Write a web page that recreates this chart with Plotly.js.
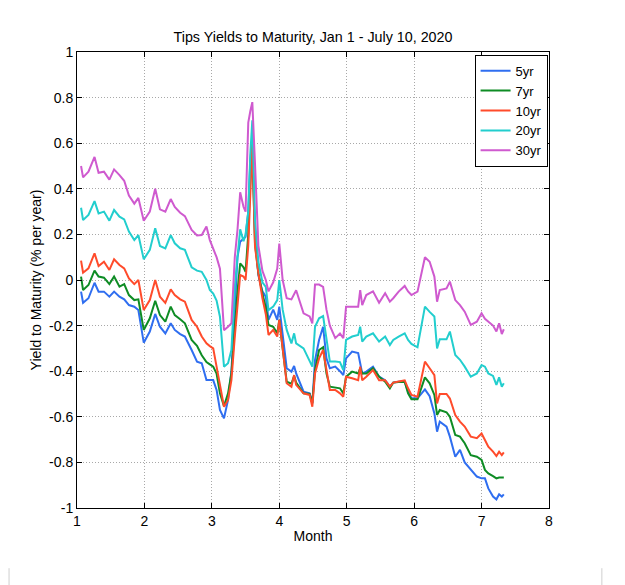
<!DOCTYPE html>
<html>
<head>
<meta charset="utf-8">
<script src="https://cdn.plot.ly/plotly-3.0.1.min.js"></script>
<style>html,body{margin:0;padding:0;background:#fff}#chart{width:625px;height:585px}</style>
</head>
<body>
<div id="chart"></div>
<script>
const months = [1.06,1.09,1.17,1.26,1.32,1.40,1.48,1.55,1.63,1.70,1.77,1.85,1.91,1.99,2.08,2.16,2.23,2.31,2.39,2.45,
2.53,2.60,2.70,2.78,2.85,2.92,2.97,3.02,3.07,3.12,3.18,3.24,3.29,3.34,3.38,3.42,3.47,3.50,3.54,3.57,
3.60,3.64,3.69,3.75,3.80,3.84,3.91,3.97,4.00,4.05,4.11,4.18,4.22,4.25,4.36,4.45,4.49,4.53,4.59,4.65,
4.70,4.75,4.83,4.90,4.95,4.99,5.08,5.17,5.20,5.23,5.29,5.39,5.48,5.57,5.64,5.69,5.77,5.86,5.91,5.96,
6.05,6.16,6.23,6.30,6.34,6.38,6.48,6.53,6.61,6.68,6.75,6.84,6.93,7.00,7.05,7.10,7.17,7.22,7.26,7.30,7.33];

const yr30 = [0.50,0.45,0.475,0.54,0.47,0.475,0.44,0.485,0.46,0.435,0.37,0.335,0.36,0.26,0.30,0.40,0.31,0.30,0.355,0.32,
0.295,0.28,0.22,0.195,0.197,0.235,0.175,0.14,0.10,0.05,-0.22,-0.205,-0.19,0.10,0.22,0.385,0.32,0.30,0.69,0.74,
0.78,0.51,0.15,0.04,0.0,-0.05,-0.01,0.05,0.16,0.0,-0.08,-0.085,-0.06,-0.045,-0.146,-0.16,-0.19,-0.02,-0.02,-0.03,
-0.13,-0.20,-0.255,-0.235,-0.255,-0.117,-0.117,-0.117,-0.044,-0.11,-0.066,-0.05,-0.10,-0.058,-0.095,-0.08,-0.051,-0.026,-0.05,-0.066,
-0.051,0.10,0.08,0.015,-0.095,-0.044,-0.037,-0.007,-0.088,-0.11,-0.139,-0.197,-0.183,-0.146,-0.17,-0.183,-0.20,-0.226,-0.19,-0.237,-0.216];

const yr20 = [0.317,0.263,0.285,0.346,0.292,0.30,0.26,0.307,0.278,0.266,0.212,0.175,0.197,0.091,0.132,0.227,0.149,0.139,0.197,0.161,
0.139,0.132,0.056,0.041,0.036,0.0,-0.044,-0.06,-0.09,-0.161,-0.38,-0.365,-0.307,-0.03,0.10,0.222,0.17,0.20,0.30,0.55,
0.70,0.263,0.08,-0.01,-0.03,-0.132,-0.117,-0.088,0.0,-0.13,-0.219,-0.278,-0.234,-0.278,-0.30,-0.351,-0.38,-0.205,-0.168,-0.158,
-0.27,-0.358,-0.358,-0.36,-0.395,-0.263,-0.248,-0.241,-0.205,-0.27,-0.248,-0.234,-0.27,-0.248,-0.285,-0.263,-0.248,-0.234,-0.263,-0.28,
-0.295,-0.117,-0.14,-0.16,-0.30,-0.26,-0.26,-0.226,-0.329,-0.35,-0.38,-0.424,-0.41,-0.373,-0.38,-0.41,-0.421,-0.46,-0.427,-0.468,-0.453];

const yr10 = [0.085,0.032,0.051,0.117,0.061,0.08,0.044,0.091,0.066,0.051,0.007,-0.018,0.0,-0.132,-0.088,0.0,-0.073,-0.10,-0.041,-0.066,
-0.085,-0.095,-0.175,-0.205,-0.248,-0.278,-0.29,-0.30,-0.38,-0.468,-0.556,-0.526,-0.439,-0.25,-0.10,0.022,0.015,0.0,0.15,0.40,
0.60,0.146,0.03,-0.08,-0.15,-0.241,-0.219,-0.248,-0.175,-0.30,-0.453,-0.468,-0.417,-0.46,-0.497,-0.504,-0.556,-0.41,-0.344,-0.307,
-0.402,-0.482,-0.482,-0.497,-0.512,-0.424,-0.431,-0.439,-0.38,-0.44,-0.424,-0.395,-0.44,-0.44,-0.468,-0.45,-0.445,-0.44,-0.475,-0.504,
-0.512,-0.358,-0.387,-0.417,-0.541,-0.50,-0.50,-0.52,-0.592,-0.621,-0.643,-0.687,-0.694,-0.673,-0.702,-0.731,-0.753,-0.772,-0.753,-0.768,-0.756];

const yr7 = [0.015,-0.044,-0.022,0.041,0.015,0.01,-0.018,0.015,-0.029,-0.018,-0.066,-0.088,-0.085,-0.219,-0.168,-0.091,-0.154,-0.183,-0.117,-0.154,
-0.172,-0.19,-0.263,-0.289,-0.33,-0.36,-0.37,-0.38,-0.41,-0.497,-0.553,-0.497,-0.41,-0.20,-0.05,0.073,0.056,0.036,0.20,0.45,
0.58,0.16,0.03,-0.06,-0.12,-0.197,-0.205,-0.234,-0.175,-0.30,-0.446,-0.455,-0.42,-0.45,-0.497,-0.50,-0.54,-0.395,-0.307,-0.295,
-0.41,-0.468,-0.47,-0.475,-0.497,-0.424,-0.402,-0.41,-0.387,-0.41,-0.41,-0.387,-0.424,-0.446,-0.475,-0.45,-0.447,-0.446,-0.497,-0.523,
-0.523,-0.427,-0.453,-0.504,-0.592,-0.57,-0.58,-0.60,-0.68,-0.687,-0.716,-0.768,-0.775,-0.789,-0.833,-0.848,-0.86,-0.87,-0.866,-0.866,-0.866];

const yr5 = [-0.051,-0.10,-0.08,-0.012,-0.051,-0.051,-0.073,-0.051,-0.073,-0.085,-0.11,-0.117,-0.132,-0.275,-0.226,-0.149,-0.205,-0.234,-0.19,-0.219,
-0.237,-0.248,-0.307,-0.358,-0.365,-0.439,-0.439,-0.439,-0.482,-0.57,-0.607,-0.526,-0.40,-0.10,0.10,0.168,0.183,0.19,0.30,0.52,
0.62,0.20,0.02,-0.05,-0.073,-0.175,-0.13,-0.175,-0.117,-0.25,-0.387,-0.402,-0.377,-0.41,-0.49,-0.497,-0.541,-0.351,-0.263,-0.205,
-0.344,-0.387,-0.38,-0.40,-0.417,-0.344,-0.314,-0.32,-0.358,-0.41,-0.402,-0.38,-0.424,-0.44,-0.468,-0.45,-0.446,-0.446,-0.49,-0.519,
-0.519,-0.48,-0.51,-0.585,-0.665,-0.621,-0.643,-0.687,-0.775,-0.745,-0.80,-0.833,-0.862,-0.87,-0.87,-0.914,-0.95,-0.962,-0.94,-0.95,-0.94];

const seriesNames = ['5yr','7yr','10yr','20yr','30yr'];
const seriesValues = [yr5, yr7, yr10, yr20, yr30];
const seriesColors = ['#2f6ef0','#0e8c24','#ff4b2b','#22cece','#cf5acf'];

const xTickVals = [1,2,3,4,5,6,7,8];
const xTickText = ['1','2','3','4','5','6','7','8'];
const yTickVals = [1,0.8,0.6,0.4,0.2,0,-0.2,-0.4,-0.6,-0.8,-1];
const yTickText = ['1','0.8','0.6','0.4','0.2','0','-0.2','-0.4','-0.6','-0.8','-1'];

const traces = seriesNames.map((n,i)=>({
  x: months, y: seriesValues[i], name: n, type: 'scatter', mode: 'lines',
  line: {color: seriesColors[i], width: 2}
}));

const axisCommon = {
  showline: true, linecolor: '#000', linewidth: 1, mirror: 'ticks',
  ticks: 'inside', ticklen: 5, tickcolor: '#000',
  showgrid: true, gridcolor: '#a8a8a8', griddash: '1px,2px', gridwidth: 1,
  zeroline: false, tickfont: {size: 14, color: '#000'}
};

const layout = {
  width: 625, height: 585,
  margin: {l: 77, r: 76, t: 52, b: 77},
  paper_bgcolor: '#fff', plot_bgcolor: '#fff',
  font: {family: 'Liberation Sans, Arial, sans-serif', color: '#000', size: 14},
  title: {text: 'Tips Yields to Maturity, Jan 1 - July 10, 2020', x: 0.5, xref: 'paper', yref: 'container', y: 0.937, yanchor: 'middle', font: {size: 14.3}},
  xaxis: Object.assign({}, axisCommon, {range: [1,8], tickmode: 'array', tickvals: xTickVals, ticktext: xTickText,
    title: {text: 'Month', standoff: 3, font: {size: 14}}}),
  yaxis: Object.assign({}, axisCommon, {range: [-1,1], tickmode: 'array', tickvals: yTickVals, ticktext: yTickText,
    title: {text: 'Yield to Maturity (% per year)', standoff: 4, font: {size: 14}}}),
  showlegend: true,
  legend: {x: 0.997, y: 0.994, xanchor: 'right', yanchor: 'top', bgcolor: '#fff', bordercolor: '#000', borderwidth: 1,
    font: {size: 13}, tracegroupgap: 0, itemwidth: 30},
  shapes: [
    {type: 'line', xref: 'paper', yref: 'paper', x0: -0.144, x1: -0.144, y0: -0.132, y1: -0.2, line: {color: '#cfcfcf', width: 1}},
    {type: 'line', xref: 'paper', yref: 'paper', x0: 1.112, x1: 1.112, y0: -0.132, y1: -0.2, line: {color: '#cfcfcf', width: 1}}
  ]
};

Plotly.newPlot('chart', traces, layout, {displayModeBar: false, staticPlot: true});
</script>
</body>
</html>
